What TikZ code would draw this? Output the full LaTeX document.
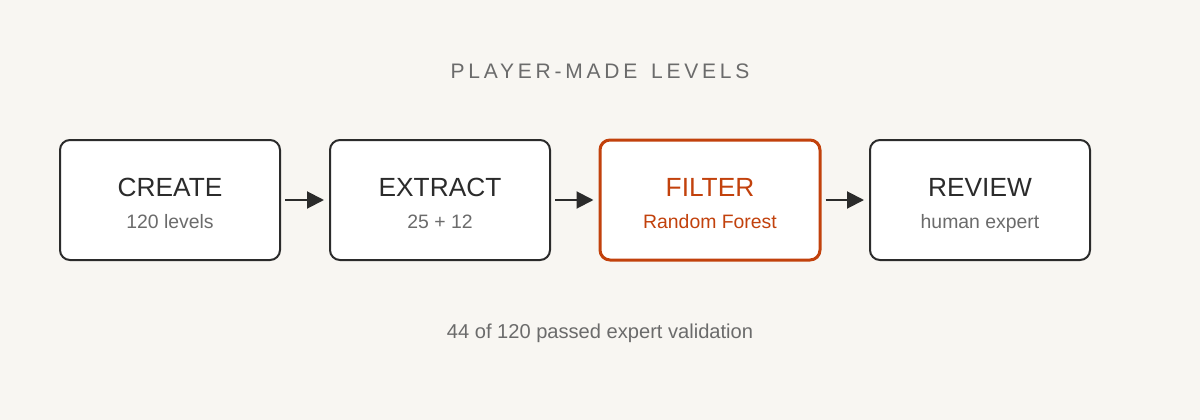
\documentclass[tikz,border=0pt]{standalone}
\usepackage{fontspec}
\setmainfont{Liberation Sans}
\newfontfamily\spacedfont[LetterSpace=18]{Liberation Sans}
\usetikzlibrary{arrows.meta}
\definecolor{bg}{HTML}{F8F6F2}
\definecolor{ink}{HTML}{2B2B2B}
\definecolor{muted}{HTML}{6B6B6B}
\definecolor{accent}{HTML}{C2410C}
\tikzset{
  stage/.style={draw=ink, line width=2pt, fill=white, rounded corners=10pt, minimum width=220pt, minimum height=120pt, inner sep=0pt},
  hot/.style={draw=accent, line width=3pt},
  head/.style={anchor=base, text=ink, font=\fontsize{26.3}{31}\selectfont},
  sub/.style={anchor=base, text=muted, font=\fontsize{19.4}{23}\selectfont},
  flow/.style={draw=ink, line width=2pt, -{Triangle[length=17pt,width=17pt]}, shorten <=4pt, shorten >=5pt},
}
\begin{document}
\begin{tikzpicture}[x=1pt,y=-1pt]
\fill[bg] (0,0) rectangle (1200,420);
\useasboundingbox (0,0) rectangle (1200,420);
\node[anchor=base, text=muted, font=\spacedfont\fontsize{21}{25}\selectfont] (title) at (600,79) {PLAYER-MADE\hspace{4pt} LEVELS};
\node[stage] (create) at (170,200) {};
\node[stage] (extract) at (440,200) {};
\node[stage, hot] (filter) at (710,200) {};
\node[stage] (review) at (980,200) {};
\node[head] (t1) at (170,196) {CREATE};
\node[sub] (s1) at (170,228) {120 levels};
\node[head] (t2) at (440,196) {EXTRACT};
\node[sub] (s2) at (440,228) {25 + 12};
\node[head, text=accent] (t3) at (710,196) {FILTER};
\node[sub, text=accent] (s3) at (710,228) {Random Forest};
\node[head] (t4) at (980,196) {REVIEW};
\node[sub] (s4) at (980,228) {human expert};
\draw[flow] (create.east) -- (extract.west);
\draw[flow] (extract.east) -- (filter.west);
\draw[flow] (filter.east) -- (review.west);
\node[anchor=base, text=muted, font=\fontsize{20.1}{24}\selectfont] (foot) at (600,338) {44 of 120 passed expert validation};
\end{tikzpicture}
\end{document}
